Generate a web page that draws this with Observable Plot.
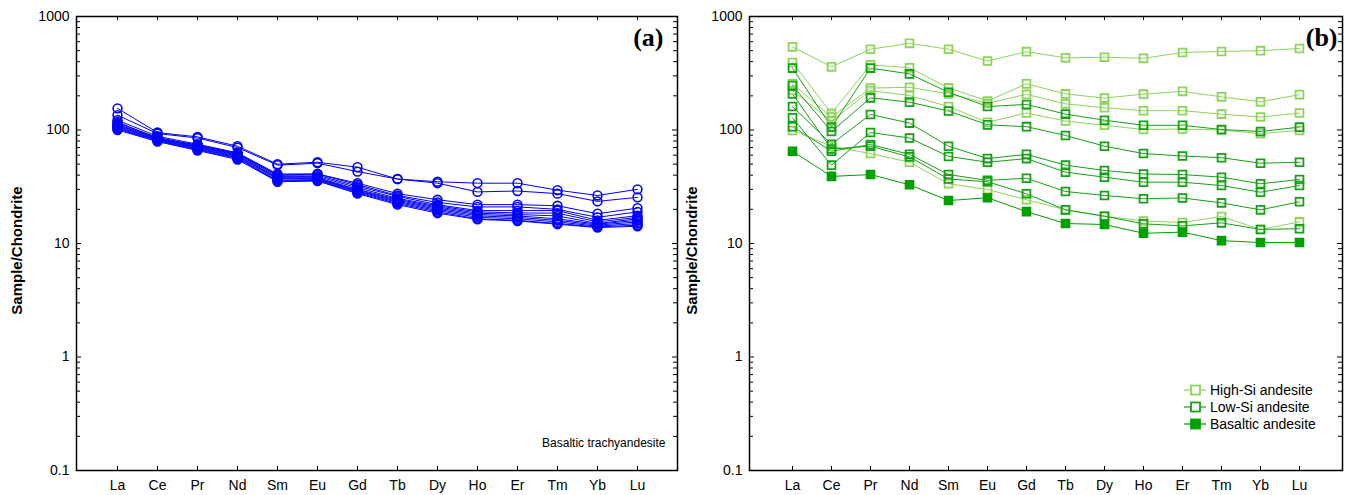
<!DOCTYPE html>
<html><head><meta charset="utf-8">
<script src="https://cdn.jsdelivr.net/npm/d3@7"></script>
<script src="https://cdn.jsdelivr.net/npm/@observablehq/plot@0.6"></script>
<style>
body{margin:0;background:#fff;}
#wrap{position:relative;width:1347px;height:495px;overflow:hidden;}
.panel{position:absolute;top:0;}
#legend{position:absolute;left:1183px;top:381px;font-family:"Liberation Sans",Arial,sans-serif;font-size:14px;color:#000;}
#legend .row{display:flex;align-items:center;height:17px;}
#legend svg{margin-right:3px;}
</style>
</head><body><div id="wrap"></div>
<script>
// ---------- data ----------
const ree = ["La","Ce","Pr","Nd","Sm","Eu","Gd","Tb","Dy","Ho","Er","Tm","Yb","Lu"];
const yTicks = [0.1, 1, 10, 100, 1000];

// panel (a) Basaltic trachyandesite samples
const a01 = [155, 95, 87, 72, 50, 52, 47, 37, 35, 34, 34, 29.5, 26.5, 30];
const a02 = [135, 93, 85, 70, 49, 51, 43, 37, 34, 28.5, 29, 27.5, 23.5, 25.5];
const a03 = [122, 88, 75, 63, 41, 41, 34, 27.5, 24.3, 22, 22, 21.5, 18.3, 20.5];
const a04 = [118, 84, 74, 62, 40, 41, 33, 26.5, 23, 21, 21, 20, 17, 19];
const a05 = [115, 86, 73, 62, 40, 40, 32, 26, 22, 19.5, 19.5, 19.5, 16, 17.6];
const a06 = [112, 85, 72, 61, 39, 39, 31, 25, 21.5, 19, 18.6, 18.5, 15.5, 17];
const a07 = [110, 84, 71, 60, 38, 38, 30, 24.5, 21, 18.5, 18, 17.5, 15, 16.5];
const a08 = [108, 83, 70, 59, 37.5, 37.5, 29.5, 24, 20.5, 18, 17.5, 16.5, 14.8, 16];
const a09 = [106, 82, 69, 58, 37, 37, 29, 23.5, 20, 17.5, 17, 16, 14.5, 15.5];
const a10 = [104, 81, 68, 57, 36, 36.5, 28.5, 23, 19.5, 17, 16.5, 15.5, 14.2, 15];
const a11 = [102, 80, 67, 56, 35.5, 36, 28, 22.5, 19, 16.5, 16, 15, 14, 14.5];
const a12 = [100, 79, 66, 55, 35, 35.5, 27.5, 22, 18.5, 16.3, 15.8, 14.8, 13.8, 14.2];

// panel (b)
const highSi1 = [540, 360, 515, 580, 515, 405, 490, 432, 438, 428, 482, 492, 500, 522];
const highSi2 = [393, 140, 375, 353, 235, 180, 255, 208, 191, 207, 219, 196, 177, 205];
const highSi3 = [255, 130, 234, 238, 208, 172, 206, 170, 157, 148, 148, 138, 130, 141];
const highSi4 = [223, 120, 223, 201, 161, 117, 141, 120, 110, 101, 102, 100, 93, 99];
const highSi5 = [99, 72, 62, 52, 33.6, 29.9, 24.3, 19.8, 17.4, 15.8, 15.3, 17.3, 13.3, 15.5];
const lowSi1 = [351, 106, 351, 312, 215, 161, 168, 138, 122, 110, 110, 101, 97, 106];
const lowSi2 = [247, 97, 192, 176, 147, 111, 107, 89.5, 72, 62, 59, 57, 51, 52];
const lowSi3 = [161, 75, 137, 115, 72, 56, 61, 49, 44, 41, 40.5, 38.4, 33.6, 36.6];
const lowSi4 = [128, 49, 95, 85, 58.5, 52, 56, 42.5, 38.4, 34.7, 34.7, 32.4, 28.3, 32.4];
const lowSi5 = [107, 65, 74.5, 61, 40.5, 36, 37.6, 28.7, 26.5, 24.8, 25.2, 22.8, 19.8, 23.3];
const lowSi6 = [208, 68, 72, 58, 37, 35, 27.4, 19.8, 17.4, 14.9, 14.3, 15.2, 13.3, 13.5];
const basaltic1 = [65, 39, 40.5, 32.9, 23.9, 25.3, 19.1, 15, 14.7, 12.3, 12.6, 10.6, 10.2, 10.2];

const groupNames = ["High-Si andesite", "Low-Si andesite", "Basaltic andesite"];
const groupColors = ["#8ed45b", "#16a016", "#00a000"];
const groupFilled = [false, false, true];

// ---------- tidy tables ----------
function tidy(list, group) {
  const rows = [];
  list.forEach(([name, vals]) => vals.forEach((v, i) => rows.push({sample: name, group, el: ree[i], v})));
  return rows;
}
const dataA = tidy([["a01",a01],["a02",a02],["a03",a03],["a04",a04],["a05",a05],["a06",a06],
  ["a07",a07],["a08",a08],["a09",a09],["a10",a10],["a11",a11],["a12",a12]], "Basaltic trachyandesite");
const dataB = [
  ...tidy([["h1",highSi1],["h2",highSi2],["h3",highSi3],["h4",highSi4],["h5",highSi5]], groupNames[0]),
  ...tidy([["l1",lowSi1],["l2",lowSi2],["l3",lowSi3],["l4",lowSi4],["l5",lowSi5],["l6",lowSi6]], groupNames[1]),
  ...tidy([["b1",basaltic1]], groupNames[2])
];

const minorTicks = [];
for (const k of [-1, 0, 1, 2]) for (let m = 2; m <= 9; m++) minorTicks.push(+(m * Math.pow(10, k)).toPrecision(3));

const sans = '"Liberation Sans", Arial, sans-serif';
const serif = '"Liberation Serif", "Times New Roman", serif';

function frameMarks(fw, fh, labelDx) {
  return [
    Plot.frame({stroke: "#000", strokeWidth: 1.5}),
    Plot.tickX(ree, {x: d => d, insetTop: fh - 4, stroke: "#000"}),
    Plot.tickX(ree, {x: d => d, insetBottom: fh - 4, stroke: "#000"}),
    Plot.tickY(yTicks, {y: d => d, insetRight: fw - 5, stroke: "#000"}),
    Plot.tickY(yTicks, {y: d => d, insetLeft: fw - 5, stroke: "#000"}),
    Plot.tickY(minorTicks, {y: d => d, insetRight: fw - 4, stroke: "#000"}),
    Plot.tickY(minorTicks, {y: d => d, insetLeft: fw - 4, stroke: "#000"}),
    Plot.axisX({tickSize: 0, tickPadding: 10, label: null, fontSize: 14}),
    Plot.axisY({ticks: yTicks, tickFormat: d => String(d), tickSize: 0, tickPadding: 7, label: null, fontSize: 14}),
    Plot.text(["Sample/Chondrite"], {frameAnchor: "left", textAnchor: "middle", lineAnchor: "middle", dx: labelDx, dy: 7, rotate: -90, fontWeight: "bold", fontSize: 15})
  ];
}

const H = 495, MT = 16, MB = 25;
// panel (a)
const WA = 680, MLA = 76, MRA = 3;
const fwA = WA - MLA - MRA, fh = H - MT - MB;
const plotA = Plot.plot({
  width: WA, height: H, marginLeft: MLA, marginRight: MRA, marginTop: MT, marginBottom: MB,
  style: {fontFamily: sans, fontSize: "14px", color: "#000", background: "transparent"},
  x: {type: "point", domain: ree, padding: 1},
  y: {type: "log", domain: [0.1, 1000]},
  marks: [
    ...frameMarks(fwA, fh, -59),
    Plot.line(dataA, {x: "el", y: "v", z: "sample", stroke: "#0000ff", strokeWidth: 1}),
    Plot.dot(dataA, {x: "el", y: "v", r: 4.4, stroke: "#0000ff", strokeWidth: 1.6, fill: "none"}),
    Plot.text(["(a)"], {frameAnchor: "top-right", dx: -14, dy: 29, textAnchor: "end", lineAnchor: "bottom", fontFamily: serif, fontWeight: "bold", fontSize: 26}),
    Plot.text(["Basaltic trachyandesite"], {frameAnchor: "bottom-right", dx: -12, dy: -27, textAnchor: "end", lineAnchor: "middle", fontSize: 12})
  ]
});

// panel (b)
const WB = 667, MLB = 69, MRB = 5;
const fwB = WB - MLB - MRB;
const colorOf = g => groupColors[groupNames.indexOf(g)];
const plotB = Plot.plot({
  width: WB, height: H, marginLeft: MLB, marginRight: MRB, marginTop: MT, marginBottom: MB,
  style: {fontFamily: sans, fontSize: "14px", color: "#000", background: "transparent"},
  x: {type: "point", domain: ree, padding: 1},
  y: {type: "log", domain: [0.1, 1000]},
  color: {type: "ordinal", domain: groupNames, range: groupColors},
  marks: [
    ...frameMarks(fwB, fh, -57),
    Plot.line(dataB, {x: "el", y: "v", z: "sample", stroke: "group", strokeWidth: 1}),
    Plot.dot(dataB, {x: "el", y: "v", symbol: "square", r: 4.4, stroke: "group", strokeWidth: 1.8,
      fill: d => groupFilled[groupNames.indexOf(d.group)] ? colorOf(d.group) : "none"}),
    Plot.text(["(b)"], {frameAnchor: "top-right", dx: -5, dy: 29, textAnchor: "end", lineAnchor: "bottom", fontFamily: serif, fontWeight: "bold", fontSize: 26})
  ]
});

const wrap = document.getElementById("wrap");
const pa = document.createElement("div"); pa.className = "panel"; pa.style.left = "0px"; pa.appendChild(plotA);
const pb = document.createElement("div"); pb.className = "panel"; pb.style.left = (WA) + "px"; pb.appendChild(plotB);
wrap.appendChild(pa); wrap.appendChild(pb);

// legend
const leg = document.createElement("div"); leg.id = "legend";
groupNames.forEach((g, i) => {
  const row = document.createElement("div"); row.className = "row";
  const c = groupColors[i];
  row.innerHTML = `<svg width="24" height="14"><line x1="1" x2="23" y1="7" y2="7" stroke="${c}" stroke-width="1.2"/>` +
    `<rect x="8" y="2.5" width="9" height="9" stroke="${c}" stroke-width="1.8" fill="${groupFilled[i] ? c : "#fff"}"/></svg><span>${g}</span>`;
  leg.appendChild(row);
});
wrap.appendChild(leg);
</script>
</body></html>
